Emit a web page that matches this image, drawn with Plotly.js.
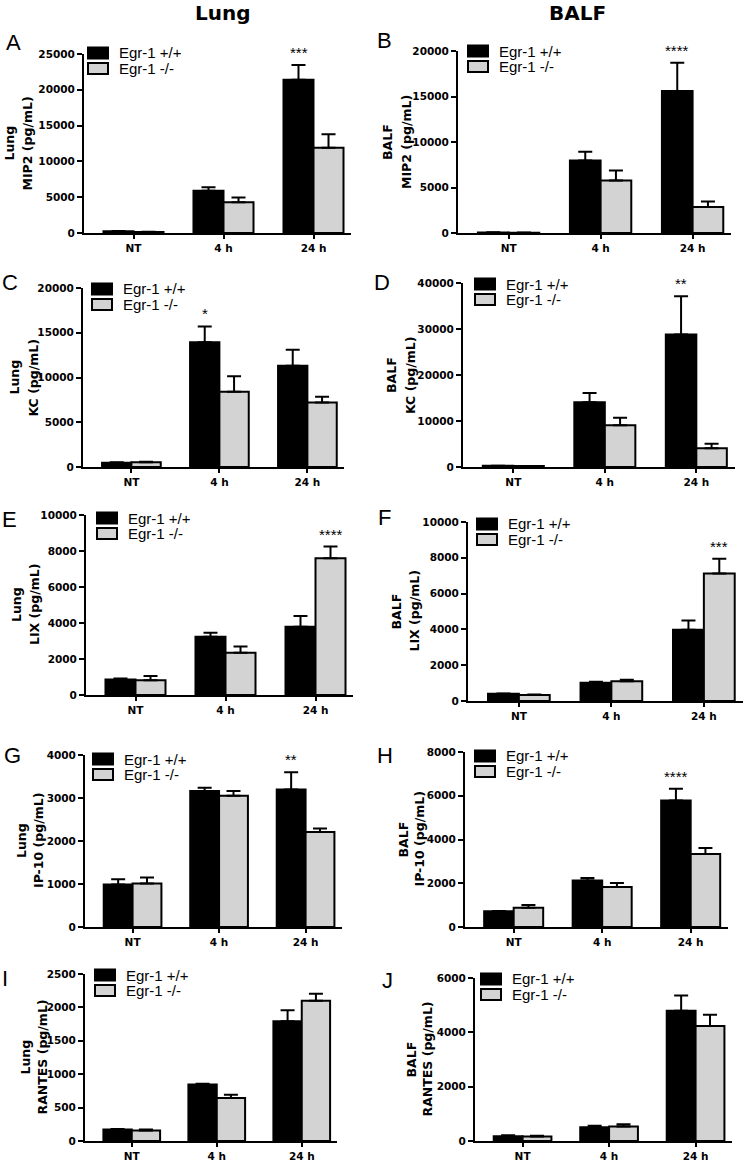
<!DOCTYPE html>
<html><head><meta charset="utf-8">
<script src="https://cdn.plot.ly/plotly-3.0.1.min.js"></script>
<style>html,body{margin:0;padding:0;background:#fff}#chart{width:750px;height:1165px}</style>
</head><body><div id="chart"></div>
<script>
// ---------- DATA ----------
const categories = ['NT', '4 h', '24 h'];
const seriesNames = ['Egr-1 +/+', 'Egr-1 -/-'];
const columnTitles = ['Lung', 'BALF'];
const panelLetters = ['A', 'B', 'C', 'D', 'E', 'F', 'G', 'H', 'I', 'J'];
const tissueLabels = ['Lung', 'BALF', 'Lung', 'BALF', 'Lung', 'BALF', 'Lung', 'BALF', 'Lung', 'BALF'];
const analyteLabels = ['MIP2 (pg/mL)', 'MIP2 (pg/mL)', 'KC (pg/mL)', 'KC (pg/mL)', 'LIX (pg/mL)', 'LIX (pg/mL)',
  'IP-10 (pg/mL)', 'IP-10 (pg/mL)', 'RANTES (pg/mL)', 'RANTES (pg/mL)'];

// Egr-1 +/+ (black) means and SEM, one row per panel A..J
const wtMean = [
  [230, 5900, 21400], [50, 7960, 15600], [470, 13950, 11300], [250, 14100, 28800], [860, 3230, 3790],
  [400, 1020, 3980], [990, 3160, 3200], [715, 2130, 5780], [172, 845, 1794], [178, 509, 4790]
];
const wtSem = [
  [40, 500, 2070], [20, 980, 3100], [50, 1750, 1800], [40, 2000, 8300], [60, 230, 600],
  [20, 60, 520], [120, 80, 400], [15, 110, 540], [8, 12, 163], [30, 50, 570]
];
// Egr-1 -/- (grey) means and SEM
const koMean = [
  [150, 4300, 11900], [40, 5770, 2850], [540, 8400, 7200], [200, 9050, 4100], [820, 2350, 7600],
  [330, 1110, 7120], [1010, 3050, 2210], [880, 1830, 3340], [158, 642, 2100], [166, 532, 4237]
];
const koSem = [
  [20, 650, 1900], [15, 1090, 620], [40, 1750, 650], [30, 1650, 950], [230, 350, 650],
  [40, 80, 830], [140, 110, 80], [130, 180, 270], [15, 50, 104], [30, 80, 410]
];
const yMax = [25000, 20000, 20000, 40000, 10000, 10000, 4000, 8000, 2500, 6000];
const yStep = [5000, 5000, 5000, 10000, 2000, 2000, 1000, 2000, 500, 2000];
const sigText = ['***', '****', '*', '**', '****', '***', '**', '****', '', ''];
const sigCategory = ['24 h', '24 h', '4 h', '24 h', '24 h', '24 h', '24 h', '24 h', null, null];
const sigSeries = [0, 0, 0, 0, 1, 1, 0, 0, null, null];

// ---------- LAYOUT GEOMETRY (pixels) ----------
const W = 750, H = 1165;
const geom = [
  {ax: 84, sp: 90, y0: 233, yt: 54, t1: 9, t2: 27, lx: 13, ly: 43, gx: 88, gy: 53},
  {ax: 458, sp: 92, y0: 233, yt: 51, t1: 387, t2: 406, lx: 384, ly: 41, gx: 468, gy: 51},
  {ax: 83, sp: 88, y0: 467, yt: 288, t1: 14, t2: 33, lx: 10, ly: 283, gx: 92, gy: 289},
  {ax: 463, sp: 91.5, y0: 467, yt: 283, t1: 391, t2: 410, lx: 382, ly: 282, gx: 475, gy: 284},
  {ax: 86, sp: 90, y0: 695, yt: 515, t1: 17, t2: 35, lx: 9, ly: 519, gx: 97, gy: 518},
  {ax: 468, sp: 92.5, y0: 701, yt: 522, t1: 396, t2: 414, lx: 384, ly: 517, gx: 477, gy: 524},
  {ax: 85, sp: 86.5, y0: 927, yt: 755, t1: 21, t2: 38, lx: 12, ly: 756, gx: 93, gy: 759},
  {ax: 465, sp: 88.5, y0: 927, yt: 752, t1: 403, t2: 419, lx: 385, ly: 756, gx: 475, gy: 756},
  {ax: 85, sp: 85, y0: 1141, yt: 974, t1: 25, t2: 42, lx: 5, ly: 979, gx: 95, gy: 975},
  {ax: 475, sp: 86.5, y0: 1141, yt: 978, t1: 411, t2: 427, lx: 387, ly: 980, gx: 481, gy: 979}
];
const colors = ['#000000', '#d3d3d3'];
const FONT = 'Liberation Sans, Arial, Helvetica, sans-serif';
const BOLDFONT = 'DejaVu Sans, Liberation Sans, Arial, sans-serif';
const px = x => x / W;
const py = y => 1 - y / H;
const R0 = -0.55, R1 = 2.42;

const traces = [];
const annotations = [];
const shapes = [];
const layout = {
  width: W, height: H,
  margin: {l: 0, r: 0, t: 0, b: 0},
  paper_bgcolor: '#fff', plot_bgcolor: 'rgba(0,0,0,0)',
  barmode: 'group', bargap: 0.333, bargroupgap: 0,
  showlegend: false,
  font: {family: FONT, color: '#000'},
  annotations: annotations, shapes: shapes
};

columnTitles.forEach((t, c) => {
  annotations.push({text: t, xref: 'paper', yref: 'paper', x: px(c === 0 ? 223 : 577), y: py(13),
    showarrow: false, xanchor: 'center', yanchor: 'middle',
    font: {family: BOLDFONT, size: 20, weight: 'bold', color: '#000'}});
});

geom.forEach((g, i) => {
  const n = i + 1;
  const xa = 'x' + (n === 1 ? '' : n), ya = 'y' + (n === 1 ? '' : n);
  const means = [wtMean[i], koMean[i]], sems = [wtSem[i], koSem[i]];
  for (let s = 0; s < 2; s++) {
    traces.push({
      type: 'bar', name: seriesNames[s], x: categories, y: means[s],
      xaxis: xa, yaxis: ya, showlegend: false,
      marker: {color: colors[s], line: {color: '#000', width: 2}},
      error_y: {type: 'data', symmetric: false, array: sems[s], arrayminus: sems[s].map(() => 0),
        color: '#000', thickness: 2, width: 7},
      hoverinfo: 'x+y'
    });
  }
  layout['xaxis' + (n === 1 ? '' : n)] = {
    domain: [px(g.ax), px(g.ax + (R1 - R0) * g.sp)], anchor: ya,
    type: 'category', categoryorder: 'array', categoryarray: categories,
    range: [R0, R1], showline: true, linewidth: 2, linecolor: '#000',
    ticks: 'outside', ticklen: 4, tickwidth: 2, tickcolor: '#000',
    tickfont: {family: BOLDFONT, size: 10.5, weight: 'bold', color: '#000'},
    showgrid: false, zeroline: false, fixedrange: true
  };
  layout['yaxis' + (n === 1 ? '' : n)] = {
    domain: [py(g.y0), py(g.yt)], anchor: xa,
    range: [0, yMax[i]], tick0: 0, dtick: yStep[i], tickformat: 'd',
    showline: true, linewidth: 2, linecolor: '#000',
    ticks: 'outside', ticklen: 5, tickwidth: 2, tickcolor: '#000',
    tickfont: {family: BOLDFONT, size: 10.5, weight: 'bold', color: '#000'},
    showgrid: false, zeroline: false, fixedrange: true
  };
  // panel letter
  annotations.push({text: panelLetters[i], xref: 'paper', yref: 'paper', x: px(g.lx), y: py(g.ly),
    showarrow: false, xanchor: 'center', yanchor: 'middle',
    font: {family: FONT, size: 22, color: '#000'}});
  // two-line y title
  const yc = py((g.y0 + g.yt) / 2);
  [[tissueLabels[i], g.t1], [analyteLabels[i], g.t2]].forEach(([t, x]) => {
    annotations.push({text: t, xref: 'paper', yref: 'paper', x: px(x), y: yc, textangle: -90,
      showarrow: false, xanchor: 'center', yanchor: 'middle',
      font: {family: BOLDFONT, size: 12.5, weight: 'bold', color: '#000'}});
  });
  // legend
  for (let s = 0; s < 2; s++) {
    const cy = g.gy + s * 15.5;
    shapes.push({type: 'rect', xref: 'paper', yref: 'paper',
      x0: px(g.gx), x1: px(g.gx + 20), y0: py(cy + 5.5), y1: py(cy - 5.5),
      fillcolor: colors[s], line: {color: '#000', width: 2}});
    annotations.push({text: seriesNames[s], xref: 'paper', yref: 'paper', x: px(g.gx + 29), y: py(cy),
      showarrow: false, xanchor: 'left', yanchor: 'middle',
      font: {family: FONT, size: 15, color: '#000'}});
  }
  // significance
  if (sigText[i]) {
    const ci = categories.indexOf(sigCategory[i]);
    const s = sigSeries[i];
    const top = means[s][ci] + sems[s][ci];
    annotations.push({text: sigText[i], xref: xa, yref: ya, x: ci + (s === 0 ? -1 / 6 : 1 / 6), y: top,
      showarrow: false, xanchor: 'center', yanchor: 'bottom', yshift: 2,
      font: {family: FONT, size: 15, color: '#000'}});
  }
});

Plotly.newPlot('chart', traces, layout, {staticPlot: true, displayModeBar: false});
</script>
</body></html>
